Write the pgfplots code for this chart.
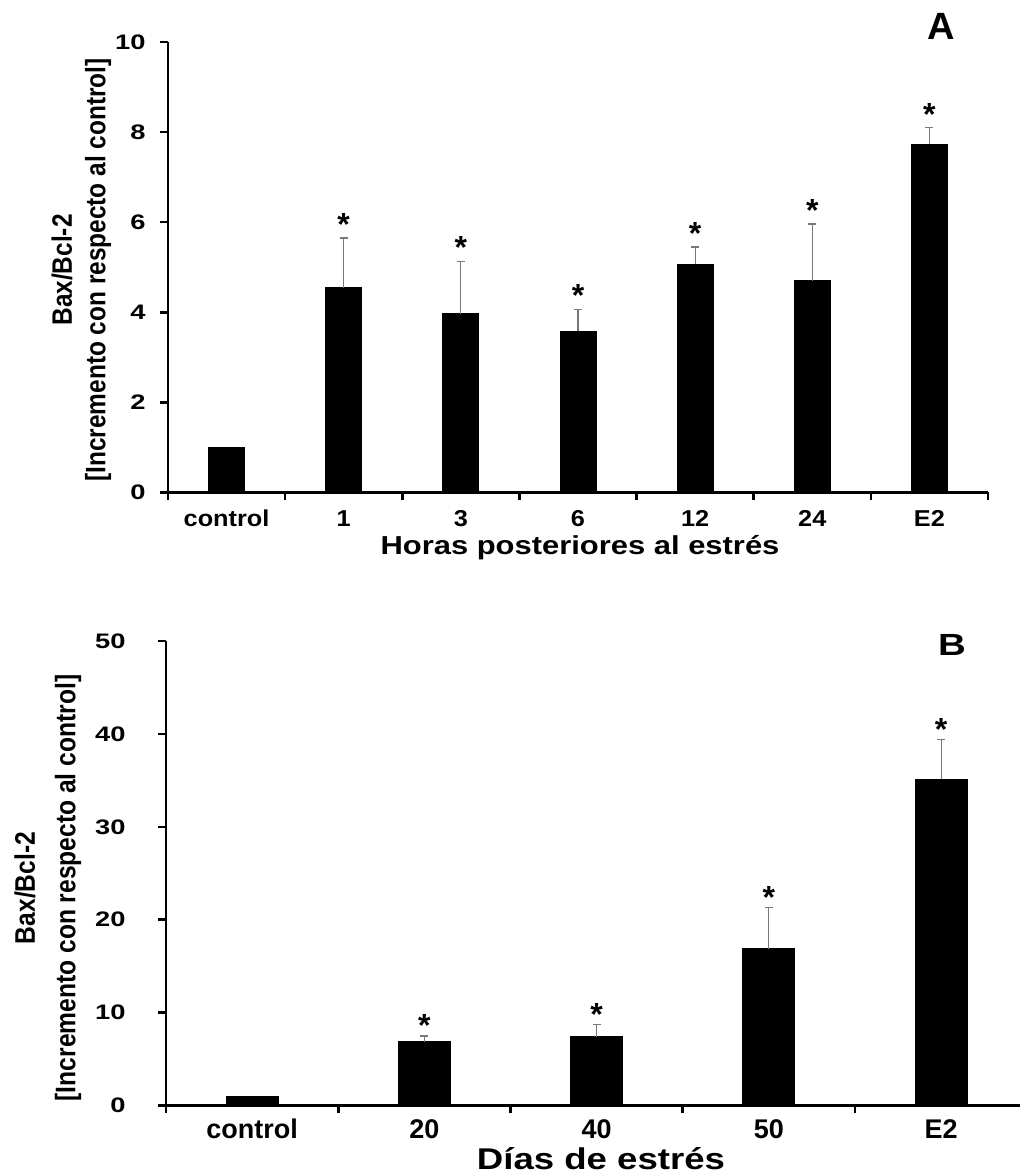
\documentclass[border=0pt]{standalone}
\usepackage{fontspec}
\setmainfont{Liberation Sans}
\usepackage{graphicx}
\usepackage{pgfplots}
\pgfplotsset{compat=1.18}
\definecolor{errgray}{RGB}{120,120,120}
\newcommand\fs[1]{\fontsize{#1}{#1}\selectfont\bfseries}
\newcommand\yl[1]{\scalebox{1.3}[1]{#1}}
\newcommand\xa[1]{\scalebox{1.1}[1]{#1}}
\begin{document}
\begin{tikzpicture}
\path[use as bounding box] (0,0) rectangle (510.5pt,588pt);
\pgfplotsset{
  panel/.style={
    scale only axis, anchor=south west,
    axis lines=left,
    axis line style={-, line width=1.3pt, black},
    tick style={line width=1.3pt, black},
    major tick length=4pt,
    tick align=outside,
    clip=false,
    ymin=0,
    yticklabel style={font=\fs{10.5}, anchor=east, inner sep=0pt, xshift=-7pt},
  },
  errs/.style={ybar, fill=black, draw=black,
    error bars/.cd, y dir=plus, y explicit,
    error bar style={color=errgray, line width=0.6pt},
    error mark options={rotate=90, mark size=2pt, color=errgray, line width=0.6pt}},
  stars/.style={only marks, mark=none, nodes near coords={*},
    every node near coord/.append style={font=\fs{16}, inner sep=0pt}},
}
% ---------------- Panel A ----------------
\begin{axis}[panel, at={(84pt,341.75pt)}, width=410pt, height=225.25pt,
  xmin=-0.5, xmax=6.5, ymax=10,
  xtick={-0.5,0.5,1.5,2.5,3.5,4.5,5.5,6.5}, xticklabels={},
  extra x ticks={0,1,2,3,4,5,6},
  extra x tick labels={\xa{control},\xa{1},\xa{3},\xa{6},\xa{12},\xa{24},\xa{E2}},
  extra x tick style={major tick length=0pt, tick label style={font=\fs{11.5}, anchor=base, yshift=-17.25pt}},
  ytick={0,2,4,6,8,10},
  yticklabels={\yl{0},\yl{2},\yl{4},\yl{6},\yl{8},\yl{10}},
]
\addplot[ybar, bar width=18pt, fill=black, draw=black] coordinates {(0,1.0)};
\addplot[bar width=18pt, errs] coordinates {
  (1,4.55) +- (0,1.10)
  (2,3.97) +- (0,1.16)
  (3,3.58) +- (0,0.49)
  (4,5.07) +- (0,0.38)
  (5,4.70) +- (0,1.26)
  (6,7.73) +- (0,0.37)
};
\addplot[stars, every node near coord/.append style={yshift=1pt}] coordinates {(1,5.65) (2,5.13) (3,4.07) (4,5.45) (5,5.96) (6,8.10)};
\end{axis}
\node[rotate=90, font=\fs{12.2}] at (31pt,453pt) {\scalebox{1}[1.15]{Bax/Bcl-2}};
\node[rotate=90, font=\fs{12.2}] at (49pt,453pt) {\scalebox{1}[1.15]{[Incremento con respecto al control]}};
\node[font=\fs{19}] at (470.5pt,575pt) {A};
\node[anchor=base, font=\fs{13}] at (290pt,310.5pt) {\scalebox{1.19}[1]{Horas posteriores al estrés}};
% ---------------- Panel B ----------------
\begin{axis}[panel, at={(83pt,35.3pt)}, width=427pt, height=232.15pt,
  xmin=-0.5, xmax=4.458, ymax=50,
  xtick={-0.5,0.5,1.5,2.5,3.5}, xticklabels={},
  extra x ticks={0,1,2,3,4},
  extra x tick labels={control,20,40,50,E2},
  extra x tick style={major tick length=0pt, tick label style={font=\fs{13.5}, anchor=base, yshift=-16.7pt}},
  ytick={0,10,20,30,40,50},
  yticklabels={\yl{0},\yl{10},\yl{20},\yl{30},\yl{40},\yl{50}},
  yticklabel style={xshift=-9pt},
]
\addplot[ybar, bar width=26pt, fill=black, draw=black] coordinates {(0,1.0)};
\addplot[bar width=26pt, errs] coordinates {
  (1,6.87) +- (0,0.61)
  (2,7.41) +- (0,1.31)
  (3,16.87) +- (0,4.43)
  (4,35.10) +- (0,4.30)
};
\addplot[stars, every node near coord/.append style={yshift=-0.5pt}] coordinates {(1,7.48) (2,8.72) (3,21.30) (4,39.40)};
\end{axis}
\node[rotate=90, font=\fs{12.3}] at (12.5pt,144pt) {\scalebox{1}[1.15]{Bax/Bcl-2}};
\node[rotate=90, font=\fs{12.3}] at (34pt,144pt) {\scalebox{1}[1.15]{[Incremento con respecto al control]}};
\node[font=\fs{17}] at (476pt,265.5pt) {\scalebox{1.13}[0.9]{B}};
\node[anchor=base, font=\fs{15}] at (300.5pt,3pt) {\scalebox{1.22}[1]{Días de estrés}};
\end{tikzpicture}
\end{document}
